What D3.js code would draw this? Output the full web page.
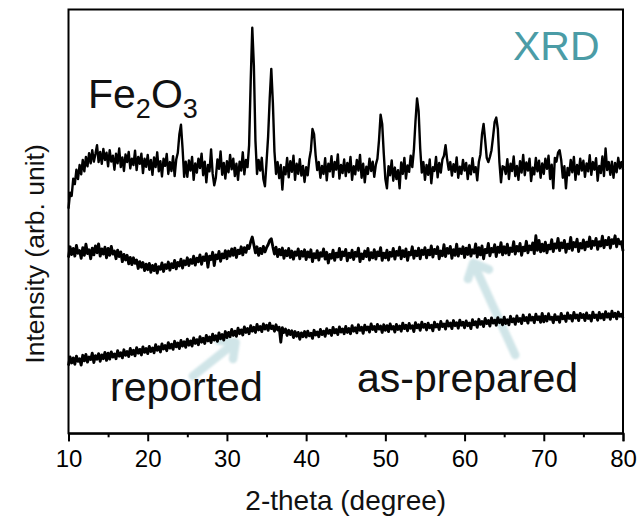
<!DOCTYPE html>
<html>
<head>
<meta charset="utf-8">
<script src="https://cdn.jsdelivr.net/npm/d3@7"></script>
<style>
  body { margin: 0; background: #fff; }
  svg text { font-family: "Liberation Sans", Arial, Helvetica, sans-serif; }
</style>
</head>
<body>
<svg id="chart" width="639" height="523"></svg>
<script>
// 2-theta sampling of the scans (degrees)
const angleStart = 10;
const angleStep = 0.2;

// Axis ticks
const xTicks = [10, 20, 30, 40, 50, 60, 70, 80];
const xMinorTicks = [15, 25, 35, 45, 55, 65, 75];

// Stacked intensities (arb. unit, offset per trace), one value per 0.2 degree from 10 to 80
const hematite = [
  530,568,560,601,588,622,600,633,611,645,618,652,630,661,637,668,641,659,680,640,664,636,671,645,662,
  630,668,641,655,622,660,637,672,628,651,619,658,640,664,625,648,633,667,621,652,636,660,614,648,629,
  657,622,645,610,651,628,663,618,642,606,648,631,659,612,640,619,654,607,646,662,706,728,672,605,641,
  605,644,620,652,598,637,615,648,626,660,609,641,592,633,618,670,612,585,603,646,624,665,610,638,601,
  642,616,657,623,648,607,636,598,641,620,663,611,645,628,680,830,957,868,690,612,645,620,650,600,583,
  640,700,790,860,780,665,612,640,602,633,575,628,611,650,604,642,617,655,598,636,612,647,608,631,593,
  628,609,646,668,718,706,656,621,640,603,631,612,649,597,636,618,654,605,640,622,658,601,633,614,646,
  607,638,616,652,598,630,611,645,620,657,603,636,592,629,612,648,619,641,605,634,648,692,752,730,660,
  600,578,630,609,644,596,627,600,621,578,639,612,650,601,632,617,655,628,668,735,790,760,672,615,640,
  598,633,610,646,590,628,619,652,604,638,615,646,655,680,646,622,640,608,635,617,651,603,629,612,645,
  620,638,600,632,611,649,616,628,597,640,658,705,730,692,650,640,652,668,700,735,745,718,640,592,630,
  628,612,647,600,636,619,653,607,631,598,642,615,657,609,639,620,648,595,627,611,650,618,643,603,637,
  612,648,624,655,600,634,578,650,641,662,668,645,603,630,578,626,609,645,616,652,598,633,611,648,620,
  643,605,637,618,656,610,640,622,649,596,631,614,653,607,672,621,640,610,641,603,638,616,650,625,640,
  622
];

const asPrepared = [
  415,440,422,436,418,443,425,431,413,438,420,446,424,433,412,437,421,442,426,447,418,435,423,439,414,
  436,420,441,423,430,412,432,417,428,405,422,409,420,400,415,398,414,401,409,389,405,392,403,384,399,
  386,401,380,396,384,399,378,393,387,402,382,398,389,404,385,400,391,408,388,403,395,411,390,407,398,
  414,396,410,401,418,397,413,405,421,399,416,408,424,392,418,410,427,396,421,412,429,406,423,414,431,
  412,430,418,435,420,437,415,432,424,440,421,438,427,443,436,452,463,445,426,440,420,436,424,441,428,
  438,445,455,459,440,423,439,417,434,421,437,413,431,419,436,415,430,411,428,420,435,412,429,418,433,
  410,428,416,433,405,424,414,431,409,426,418,435,411,427,402,422,413,432,408,425,416,436,410,428,419,
  434,407,425,415,432,410,427,418,437,405,423,412,430,417,436,409,426,414,433,411,428,419,438,408,425,
  414,432,409,427,418,436,411,429,420,439,412,431,417,435,408,427,421,440,413,430,419,437,412,432,422,
  438,414,432,421,442,416,434,424,440,412,430,419,445,417,436,425,441,413,433,420,446,418,435,424,440,
  415,437,422,444,418,433,425,447,416,438,421,442,412,434,426,448,419,436,428,445,417,439,427,450,421,
  440,425,446,421,437,429,452,423,441,430,448,420,439,431,453,426,442,433,449,424,466,432,455,428,446,
  430,451,426,444,435,457,429,447,437,460,431,449,438,455,427,446,436,462,432,450,440,458,429,448,437,
  456,433,451,441,463,436,453,444,460,434,452,442,465,438,455,445,462,437,457,448,466,440,458,447,452,
  430
];

const reported = [
  160,180,166,178,163,182,170,176,161,184,171,186,168,180,174,189,167,183,175,188,170,185,176,191,172,
  189,175,192,180,187,176,195,182,190,178,197,184,193,181,200,186,196,183,202,189,198,185,204,191,200,
  188,205,193,201,190,209,196,204,192,211,199,207,195,214,201,210,198,217,204,213,200,219,206,216,203,
  222,208,218,206,225,212,221,209,228,215,224,212,231,218,227,214,234,220,230,217,237,223,233,220,240,
  226,238,228,245,231,241,229,248,235,244,232,251,238,247,235,254,241,250,238,257,244,252,240,258,246,
  255,243,260,247,253,241,256,244,250,215,249,238,246,231,243,233,242,226,240,229,238,222,237,228,240,
  227,241,230,236,224,243,232,239,228,245,233,241,229,247,236,243,231,250,237,245,233,251,239,246,235,
  252,238,247,235,254,241,249,237,256,243,250,236,255,244,251,239,258,245,252,240,257,246,253,238,256,
  243,254,240,258,246,252,239,257,245,253,241,260,247,255,242,259,248,254,240,261,249,256,243,262,250,
  257,244,260,249,255,242,262,251,257,245,264,252,258,246,265,253,260,247,266,254,261,248,267,255,262,
  249,265,254,260,247,268,256,263,250,269,257,264,252,271,259,266,253,272,260,267,255,273,261,268,256,
  274,259,268,256,276,263,270,257,277,264,271,259,279,266,273,260,280,267,274,261,281,268,275,262,283,
  263,276,265,282,269,274,261,280,268,275,262,283,270,277,264,284,271,278,265,285,272,279,266,283,273,
  280,266,284,271,278,265,286,273,279,267,285,272,281,268,287,274,282,269,288,275,283,270,286,276,281,
  272
];

const traces = [hematite, asPrepared, reported];

// Annotation arrows: [tail angle, tail intensity, tip angle, tip intensity]
const arrowReported = [25.7, 135, 31.1, 215];
const arrowAsPrepared = [66.4, 185, 61.1, 402];

const svg = d3.select("#chart");
const margin = { left: 68.5, right: 16, top: 9.5, bottom: 89.7 };
const W = 639, H = 523;

const x = d3.scaleLinear().domain([10, 80]).range([margin.left, W - margin.right]);
const y = d3.scaleLinear().domain([0, 1000]).range([H - margin.bottom, margin.top]);

// Soft glow for the annotation arrows
const defs = svg.append("defs");
defs.append("filter").attr("id", "soft")
  .attr("x", "-20%").attr("y", "-20%").attr("width", "140%").attr("height", "140%")
  .append("feGaussianBlur").attr("stdDeviation", 0.9);

function drawArrow(a) {
  const x0 = x(a[0]), y0 = y(a[1]), x1 = x(a[2]), y1 = y(a[3]);
  const ang = Math.atan2(y1 - y0, x1 - x0);
  const head = 17, spread = Math.PI / 4.2;
  const l = [x1 - head * Math.cos(ang - spread), y1 - head * Math.sin(ang - spread)];
  const r = [x1 - head * Math.cos(ang + spread), y1 - head * Math.sin(ang + spread)];
  const p = d3.path();
  p.moveTo(x0, y0); p.lineTo(x1, y1);
  p.moveTo(l[0], l[1]); p.lineTo(x1, y1); p.lineTo(r[0], r[1]);
  svg.append("path")
    .attr("d", p.toString())
    .attr("fill", "none")
    .attr("stroke", "#d0e5e8")
    .attr("stroke-width", 8.5)
    .attr("stroke-linecap", "round")
    .attr("stroke-linejoin", "round")
    .attr("filter", "url(#soft)");
}
drawArrow(arrowReported);
drawArrow(arrowAsPrepared);

// Traces
const line = d3.line()
  .x((d, i) => x(angleStart + i * angleStep))
  .y(d => y(d));

svg.append("g")
  .selectAll("path")
  .data(traces)
  .join("path")
  .attr("d", d => line(d))
  .attr("fill", "none")
  .attr("stroke", "#000")
  .attr("stroke-width", (d, i) => i === 0 ? 2.4 : 2.9)
  .attr("stroke-linejoin", "round");

// Frame
svg.append("rect")
  .attr("x", margin.left).attr("y", margin.top)
  .attr("width", W - margin.right - margin.left)
  .attr("height", H - margin.bottom - margin.top)
  .attr("fill", "none").attr("stroke", "#000").attr("stroke-width", 2);

// Bottom axis with major and minor ticks
const axisG = svg.append("g").attr("transform", `translate(0,${H - margin.bottom})`);
axisG.call(d3.axisBottom(x).tickValues(xTicks).tickSize(8).tickPadding(9).tickFormat(d3.format("d")))
  .call(g => g.select(".domain").attr("stroke-width", 2))
  .call(g => g.selectAll(".tick line").attr("stroke-width", 2))
  .call(g => g.selectAll(".tick text").attr("font-size", 24).attr("fill", "#000")
    .attr("font-family", "'Liberation Sans', Arial, sans-serif"));
svg.append("g").attr("transform", `translate(0,${H - margin.bottom})`)
  .call(d3.axisBottom(x).tickValues(xMinorTicks).tickSize(4).tickFormat(""))
  .call(g => g.select(".domain").remove())
  .call(g => g.selectAll(".tick line").attr("stroke-width", 2));

// Axis titles
svg.append("text")
  .attr("x", (margin.left + W - margin.right) / 2).attr("y", 510)
  .attr("text-anchor", "middle").attr("font-size", 28).attr("fill", "#111")
  .text("2-theta (degree)");

svg.append("text")
  .attr("transform", "translate(44,254) rotate(-90)")
  .attr("text-anchor", "middle").attr("font-size", 26.5).attr("fill", "#111")
  .text("Intensity (arb. unit)");

// Labels
const fe = svg.append("text").attr("x", 88).attr("y", 108).attr("font-size", 41).attr("fill", "#111");
fe.append("tspan").text("Fe");
fe.append("tspan").attr("font-size", 27).attr("dy", 10).text("2");
fe.append("tspan").attr("dy", -10).text("O");
fe.append("tspan").attr("font-size", 27).attr("dy", 10).text("3");

svg.append("text").attr("x", 513).attr("y", 60).attr("font-size", 41)
  .attr("fill", "#4b9ca6").text("XRD");

svg.append("text").attr("x", 110).attr("y", 401).attr("font-size", 41)
  .attr("fill", "#111").text("reported");

svg.append("text").attr("x", 357).attr("y", 392).attr("font-size", 41)
  .attr("fill", "#111").text("as-prepared");
</script>
</body>
</html>
